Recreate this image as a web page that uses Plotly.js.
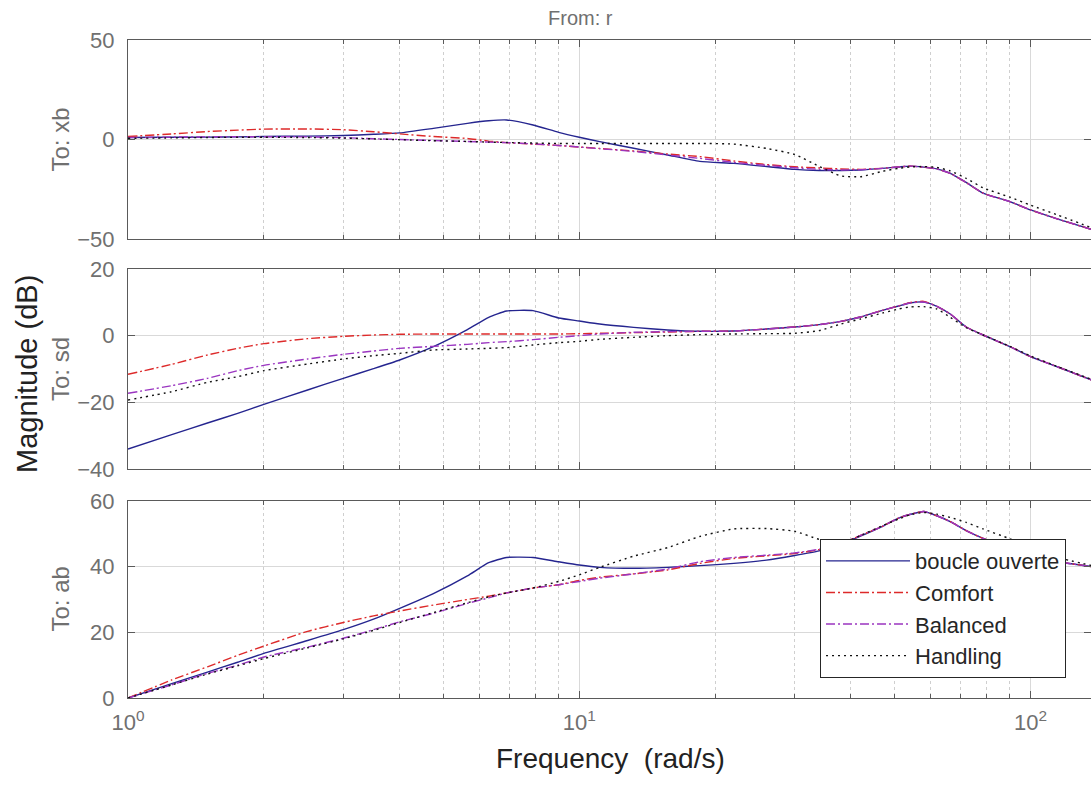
<!DOCTYPE html>
<html>
<head>
<meta charset="utf-8">
<script src="https://cdn.plot.ly/plotly-3.0.1.min.js"></script>
<style>html,body{margin:0;padding:0;overflow:hidden;background:#fff}#chart{width:1091px;height:785px}</style>
</head>
<body>
<div id="chart"></div>
<script>
// Frequency grid (rad/s)
const freq = [1, 1.25, 1.5, 1.75, 2, 2.5, 3, 3.5, 4, 4.75, 5.65, 6.3, 6.9, 7.9, 9, 10, 11.1, 13.2, 15.7, 18.5, 22, 26, 30, 34, 38, 42, 47, 51, 54, 58, 62, 66.4, 72, 78.5, 90, 100, 115, 137];

const seriesNames = ["boucle ouverte", "Comfort", "Balanced", "Handling"];

// To: xb (dB)
const xbOpen     = [1.0, 1.1, 1.2, 1.3, 1.5, 1.7, 2.0, 2.6, 3.3, 5.6, 8.1, 9.4, 9.8, 7.3, 3.6, 1.1, -1.1, -4.4, -7.8, -11.0, -12.0, -13.6, -15.0, -15.6, -15.6, -15.3, -14.5, -13.8, -13.4, -13.9, -14.8, -17.0, -21.6, -27.0, -31.2, -35.4, -40.0, -45.3];
const xbComfort  = [1.5, 2.8, 4.0, 4.7, 5.2, 5.3, 4.9, 3.9, 2.8, 1.5, 0.5, -0.8, -1.6, -2.3, -3.0, -3.8, -4.5, -5.8, -7.3, -8.6, -10.8, -12.6, -13.7, -14.3, -14.8, -15.0, -14.5, -13.8, -13.4, -13.9, -14.8, -17.0, -21.6, -27.0, -31.2, -35.4, -40.0, -45.3];
const xbBalanced = [1.0, 1.2, 1.3, 1.4, 1.4, 1.3, 0.9, 0.4, 0.0, -0.5, -1.0, -1.3, -1.6, -2.2, -3.0, -3.8, -4.6, -6.0, -7.8, -9.5, -11.5, -13.0, -14.2, -15.0, -15.3, -15.2, -14.5, -13.8, -13.4, -13.9, -14.8, -17.0, -21.6, -27.0, -31.2, -35.4, -40.0, -45.3];
const xbHandling = [0.6, 0.8, 1.0, 1.1, 1.1, 1.0, 0.7, 0.3, -0.1, -0.6, -1.0, -1.3, -1.5, -1.8, -2.0, -2.0, -2.0, -2.0, -2.0, -2.0, -2.3, -4.5, -7.5, -13.5, -18.3, -18.7, -16.0, -14.5, -13.8, -13.6, -14.0, -15.8, -19.5, -24.3, -29.0, -33.0, -38.0, -44.5];

// To: sd (dB)
const sdOpen     = [-34.0, -29.7, -26.2, -23.3, -20.6, -16.3, -12.8, -9.9, -7.3, -3.3, 1.8, 5.5, 7.4, 7.5, 5.3, 4.4, 3.5, 2.5, 1.7, 1.3, 1.4, 2.0, 2.6, 3.3, 4.3, 5.6, 7.6, 8.9, 9.8, 10.1, 8.8, 6.5, 2.6, 0.2, -3.3, -6.3, -9.4, -13.4];
const sdComfort  = [-11.6, -8.6, -5.8, -3.8, -2.4, -0.9, -0.2, 0.2, 0.4, 0.5, 0.5, 0.5, 0.5, 0.5, 0.5, 0.6, 0.7, 0.9, 1.1, 1.3, 1.4, 2.0, 2.6, 3.3, 4.3, 5.6, 7.6, 8.9, 9.9, 10.3, 8.8, 6.5, 2.6, 0.2, -3.3, -6.3, -9.4, -13.4];
const sdBalanced = [-17.3, -15.0, -12.8, -10.5, -8.9, -7.0, -5.6, -4.6, -3.8, -3.2, -2.6, -2.1, -1.8, -1.2, -0.5, 0.0, 0.5, 1.0, 1.2, 1.3, 1.4, 2.0, 2.6, 3.3, 4.3, 5.6, 7.6, 8.9, 9.8, 10.1, 8.8, 6.5, 2.6, 0.2, -3.3, -6.3, -9.4, -13.4];
const sdHandling = [-19.3, -16.8, -14.0, -12.3, -10.5, -8.5, -7.0, -6.0, -5.3, -4.3, -4.0, -3.8, -3.6, -2.8, -2.1, -1.7, -1.1, -0.5, 0.0, 0.3, 0.5, 0.6, 0.7, 1.5, 3.5, 5.0, 6.8, 8.0, 8.6, 8.7, 8.0, 5.5, 2.4, 0.2, -3.2, -6.1, -9.3, -13.2];

// To: ab (dB)
const abOpen     = [0.0, 4.4, 7.9, 10.9, 13.6, 17.5, 20.8, 24.0, 27.3, 31.8, 37.2, 41.2, 42.8, 42.8, 41.5, 40.5, 39.8, 39.5, 39.8, 40.3, 41.0, 42.0, 43.4, 44.8, 46.8, 49.3, 52.3, 54.8, 55.9, 56.8, 55.5, 53.7, 51.0, 48.6, 45.5, 43.5, 41.5, 40.0];
const abComfort  = [0.0, 5.5, 9.5, 13.0, 15.8, 20.3, 23.0, 25.0, 26.5, 28.3, 30.0, 31.0, 32.0, 33.5, 34.5, 35.8, 36.8, 37.8, 39.0, 41.0, 42.5, 43.3, 44.0, 45.2, 47.0, 49.5, 52.3, 54.8, 55.9, 56.8, 55.5, 53.7, 51.0, 48.6, 45.5, 43.5, 41.5, 40.0];
const abBalanced = [0.0, 4.0, 7.5, 10.0, 12.5, 15.5, 18.2, 20.8, 23.2, 25.8, 28.8, 30.5, 32.0, 33.5, 34.5, 35.5, 36.5, 37.8, 39.3, 41.5, 42.8, 43.5, 44.2, 45.3, 47.0, 49.5, 52.3, 54.8, 55.9, 56.8, 55.5, 53.7, 51.0, 48.6, 45.5, 43.5, 41.5, 40.0];
const abHandling = [0.0, 4.0, 7.3, 9.8, 12.0, 15.3, 18.0, 20.6, 23.0, 26.0, 29.0, 30.8, 32.0, 33.5, 35.5, 37.5, 39.8, 43.2, 45.8, 49.2, 51.5, 51.6, 50.8, 48.3, 47.0, 49.5, 52.5, 54.5, 55.8, 56.5, 56.0, 55.0, 53.5, 51.5, 48.5, 46.0, 42.8, 40.3];

const xTickVals = [1, 10, 100];
const xTickText = ["10<sup>0</sup>", "10<sup>1</sup>", "10<sup>2</sup>"];
const xMinorVals = [2,3,4,5,6,7,8,9,20,30,40,50,60,70,80,90,200];
const yTicksXb = [-50, 0, 50];
const yTicksSd = [-40, -20, 0, 20];
const yTicksAb = [0, 20, 40, 60];
const outputLabels = ["To: xb", "To: sd", "To: ab"];

const styles = [
  {color: "#25258f", dash: "solid"},
  {color: "#dd2a2a", dash: "9px,3px,2px,3px"},
  {color: "#9a35c0", dash: "9px,3px,2px,3px"},
  {color: "#111111", dash: "2px,4px"}
];

const panels = [
  {data: [xbOpen, xbComfort, xbBalanced, xbHandling], xa: "x", ya: "y"},
  {data: [sdOpen, sdComfort, sdBalanced, sdHandling], xa: "x2", ya: "y2"},
  {data: [abOpen, abComfort, abBalanced, abHandling], xa: "x3", ya: "y3"}
];

const traces = [];
panels.forEach((p, pi) => {
  p.data.forEach((vals, si) => {
    traces.push({
      x: freq, y: vals, xaxis: p.xa, yaxis: p.ya, type: "scatter", mode: "lines",
      name: seriesNames[si], legendgroup: seriesNames[si], showlegend: pi === 2,
      line: {color: styles[si].color, dash: styles[si].dash, width: 1.4, shape: "spline", smoothing: 0.5},
      hoverinfo: "skip"
    });
  });
});

const FONT = "Liberation Sans, Arial, Helvetica, sans-serif";
const GRAY = "#707070";

function xAxis(anchor, labels) {
  return {
    type: "log", range: [0, 2.134], anchor: anchor,
    showline: true, linecolor: "#5a5a5a", linewidth: 1, mirror: "ticks",
    ticks: "inside", ticklen: 7, tickcolor: "#5a5a5a",
    tickvals: xTickVals, ticktext: xTickText, showticklabels: labels,
    tickfont: {family: FONT, size: 22, color: GRAY}, ticklabelstandoff: 5,
    showgrid: true, gridcolor: "#d9d9d9", gridwidth: 1, zeroline: false,
    minor: {tickmode: "array", tickvals: xMinorVals, ticks: "inside", ticklen: 4, tickcolor: "#5a5a5a",
            showgrid: true, gridcolor: "#cfcfcf", griddash: "dot", gridwidth: 1}
  };
}
function yAxis(anchor, domain, range, ticks) {
  return {
    domain: domain, range: range, anchor: anchor,
    showline: true, linecolor: "#5a5a5a", linewidth: 1, mirror: "ticks",
    ticks: "inside", ticklen: 7, tickcolor: "#5a5a5a",
    tickmode: "array", tickvals: ticks,
    tickfont: {family: FONT, size: 22, color: GRAY}, ticklabelstandoff: 8,
    showgrid: true, gridcolor: "#d9d9d9", gridwidth: 1, zeroline: false
  };
}

const layout = {
  width: 1091, height: 785,
  margin: {l: 128, r: 0, t: 40, b: 87, pad: 0},
  paper_bgcolor: "#ffffff", plot_bgcolor: "#ffffff",
  font: {family: FONT, color: "#262626"},
  xaxis: xAxis("y", false),
  xaxis2: xAxis("y2", false),
  xaxis3: xAxis("y3", true),
  yaxis: yAxis("x", [0.6976, 1], [-50, 50], yTicksXb),
  yaxis2: yAxis("x2", [0.348, 0.652], [-40, 20], yTicksSd),
  yaxis3: yAxis("x3", [0, 0.2994], [0, 60], yTicksAb),
  showlegend: true,
  legend: {
    x: 0.7186, y: 0.2416, xanchor: "left", yanchor: "top",
    bgcolor: "#ffffff", bordercolor: "#262626", borderwidth: 1, itemwidth: 84,
    font: {family: FONT, size: 22, color: "#262626"}, tracegroupgap: 0, traceorder: "grouped"
  },
  annotations: [
    {text: "From: r", xref: "paper", yref: "paper", x: 0.4694, y: 1.0334, xanchor: "center", yanchor: "middle",
     showarrow: false, font: {family: FONT, size: 20, color: GRAY}},
    {text: outputLabels[0], xref: "paper", yref: "paper", x: -0.0706, y: 0.8488, xanchor: "center", yanchor: "middle",
     textangle: -90, showarrow: false, font: {family: FONT, size: 24, color: GRAY}},
    {text: outputLabels[1], xref: "paper", yref: "paper", x: -0.0706, y: 0.5, xanchor: "center", yanchor: "middle",
     textangle: -90, showarrow: false, font: {family: FONT, size: 24, color: GRAY}},
    {text: outputLabels[2], xref: "paper", yref: "paper", x: -0.0706, y: 0.1497, xanchor: "center", yanchor: "middle",
     textangle: -90, showarrow: false, font: {family: FONT, size: 24, color: GRAY}},
    {text: "Magnitude (dB)", xref: "paper", yref: "paper", x: -0.1049, y: 0.4924, xanchor: "center", yanchor: "middle",
     textangle: -90, showarrow: false, font: {family: FONT, size: 29, color: "#222222"}},
    {text: "Frequency\u00a0 (rad/s)", xref: "paper", yref: "paper", x: 0.5008, y: -0.0925, xanchor: "center", yanchor: "middle",
     showarrow: false, font: {family: FONT, size: 28, color: "#222222"}}
  ]
};

Plotly.newPlot("chart", traces, layout, {displayModeBar: false, staticPlot: true});
</script>
</body>
</html>
